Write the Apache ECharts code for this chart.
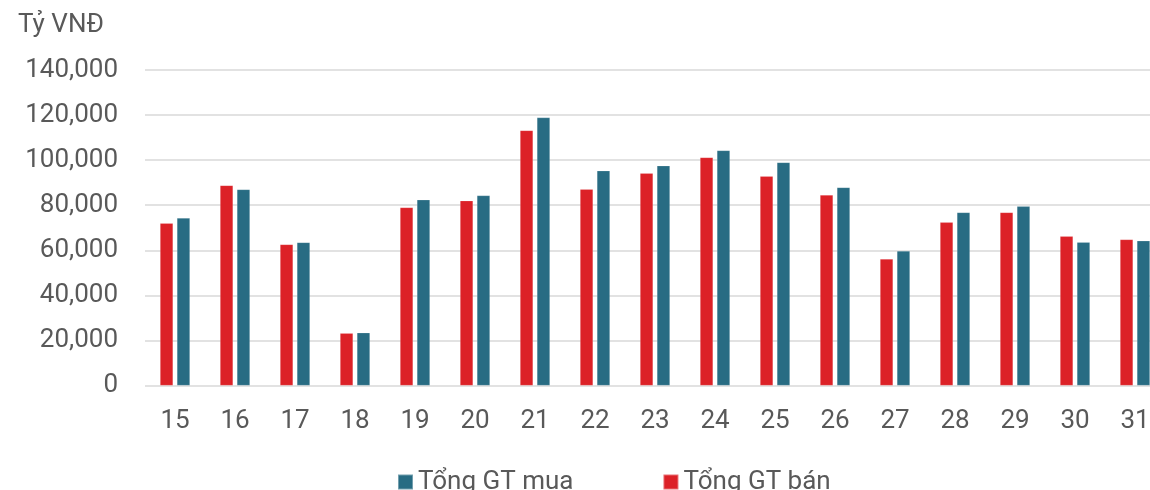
<!DOCTYPE html>
<html>
<head>
<meta charset="utf-8">
<script src="https://cdn.jsdelivr.net/npm/echarts@6/dist/echarts.min.js"></script>
<style>
  html, body { margin: 0; padding: 0; background: #fff; overflow: hidden; }
  #main { width: 1165px; height: 490px; }
</style>
</head>
<body>
<div id="main"></div>
<script>
  var days = ['15', '16', '17', '18', '19', '20', '21', '22', '23', '24', '25', '26', '27', '28', '29', '30', '31'];
  // Tổng GT bán (red)
  var sellValues = [72000, 88800, 62600, 23200, 79000, 82000, 113200, 87100, 94200, 101200, 92900, 84500, 56100, 72400, 76800, 66200, 64800];
  // Tổng GT mua (teal)
  var buyValues = [74300, 87000, 63500, 23400, 82400, 84300, 118900, 95300, 97500, 104300, 99000, 87900, 59700, 76800, 79500, 63600, 64200];
  var yTicks = { min: 0, max: 140000, step: 20000 };

  var textColor = '#595959';
  var font = 'Roboto';

  // the chart is a bit wider than the window, last category gets cut like in the original
  var chart = echarts.init(document.getElementById('main'));
  var option = {
    animation: false,
    textStyle: { fontFamily: font },
    grid: { left: 145, right: 0, top: 70, bottom: 104.5, containLabel: false },
    legend: {
      data: ['Tổng GT mua', 'Tổng GT bán'],
      left: 397,
      top: 469,
      padding: 0,
      itemWidth: 15,
      itemHeight: 15,
      itemGap: 89,
      icon: 'rect',
      textStyle: { fontSize: 26, color: textColor, fontFamily: font }
    },
    xAxis: {
      type: 'category',
      data: days,
      axisLine: { show: false },
      axisTick: { show: false },
      axisLabel: { color: textColor, fontSize: 26, margin: 23, fontFamily: font }
    },
    yAxis: {
      type: 'value',
      min: yTicks.min,
      max: yTicks.max,
      interval: yTicks.step,
      name: 'Tỷ VNĐ',
      nameLocation: 'end',
      nameGap: 32,
      nameTextStyle: { color: textColor, fontSize: 26, align: 'left', padding: [0, 0, 0, -127], fontFamily: font },
      axisLine: { show: false },
      axisTick: { show: false },
      axisLabel: {
        color: textColor, fontSize: 26, margin: 27, fontFamily: font,
        formatter: function (v) { return v.toLocaleString('en-US'); }
      },
      splitLine: { lineStyle: { color: '#d9d9d9', width: 1.5 } }
    },
    series: [
      {
        name: 'Tổng GT bán',
        type: 'bar',
        data: sellValues,
        barWidth: 13,
        barGap: '30%',
        itemStyle: { color: '#dc2127', borderColor: 'rgba(255,255,255,0.35)', borderWidth: 0.5 }
      },
      {
        name: 'Tổng GT mua',
        type: 'bar',
        data: buyValues,
        barWidth: 13,
        barGap: '30%',
        itemStyle: { color: '#286c83', borderColor: 'rgba(255,255,255,0.35)', borderWidth: 0.5 }
      }
    ]
  };
  chart.setOption(option);
  window.addEventListener('resize', function () {
    chart.resize();
  });
</script>
</body>
</html>
